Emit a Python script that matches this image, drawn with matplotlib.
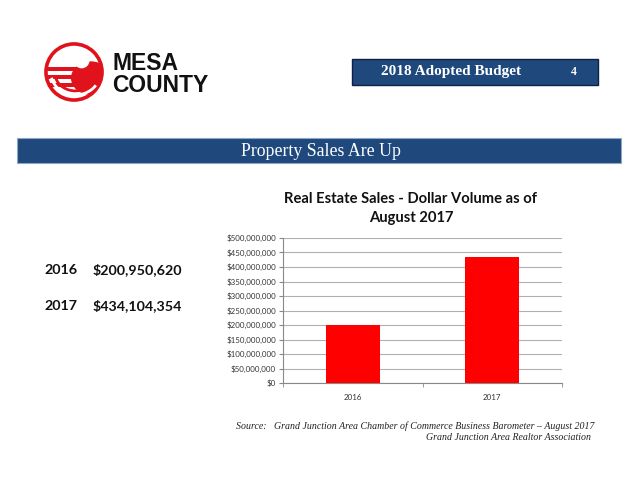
import matplotlib.pyplot as plt
import matplotlib.patches as mpatches
from matplotlib.ticker import FuncFormatter
import numpy as np

# data
years = ['2016', '2017']
sales = [200950620, 434104354]
yticks = np.arange(0, 500000001, 50000000)

W, H = 640, 480
fig = plt.figure(figsize=(6.4, 4.8), dpi=100)
fig.patch.set_facecolor('white')


def fx(x):
    return x / W


def fy(y):
    return 1 - y / H


navy = '#1F497D'
logo_red = '#E0121B'

# --- logo (rough) ---
lg = fig.add_axes([fx(42), fy(104), fx(64), 64 / H])
lg.set_xlim(-1.05, 1.05)
lg.set_ylim(-1.05, 1.05)
lg.set_aspect('equal')
lg.axis('off')
circ = mpatches.Circle((0, 0), 0.92, facecolor='white', edgecolor=logo_red, lw=2.6)
lg.add_patch(circ)
clip = mpatches.Circle((0, 0), 0.92, transform=lg.transData)
blob = mpatches.Ellipse((0.55, -0.2), 1.3, 1.1, facecolor=logo_red, edgecolor='none')
lg.add_patch(blob)
blob.set_clip_path(clip)
for yy in [0.02, -0.24, -0.50]:
    r = mpatches.Rectangle((-1, yy), 1.05, 0.13, facecolor=logo_red, edgecolor='none')
    lg.add_patch(r)
    r.set_clip_path(clip)
for k, rr in enumerate([0.55, 0.42]):
    arc = mpatches.Arc((0.05, -0.05), 2 * rr + 0.5, 2 * rr + 0.3, theta1=190, theta2=330,
                       color='white' if k == 0 else logo_red, lw=2)
    lg.add_patch(arc)
    arc.set_clip_path(clip)
hole = mpatches.Circle((0.25, 0.38), 0.26, facecolor='white', edgecolor='none')
lg.add_patch(hole)
hole.set_clip_path(clip)

fig.text(fx(112), fy(63), 'MESA', fontsize=16.5, fontweight='bold', family='Liberation Sans',
         va='center', ha='left', color='#111111')
fig.text(fx(112), fy(85), 'COUNTY', fontsize=16.5, fontweight='bold', family='Liberation Sans',
         va='center', ha='left', color='#111111')

# --- header box ---
fig.patches.append(mpatches.Rectangle((fx(352), fy(85)), fx(598 - 352), 26 / H,
                                      transform=fig.transFigure, facecolor=navy,
                                      edgecolor='#0F1F45', lw=1))
fig.text(fx(451), fy(72), '2018 Adopted Budget', fontsize=11, fontweight='bold',
         family='Liberation Serif', color='white', ha='center', va='center')
fig.text(fx(574), fy(72), '4', fontsize=8.5, fontweight='bold',
         family='Liberation Serif', color='white', ha='center', va='center')

# --- section banner ---
fig.patches.append(mpatches.Rectangle((fx(17), fy(163)), fx(621 - 17), 25 / H,
                                      transform=fig.transFigure, facecolor=navy,
                                      edgecolor='#8FA6C4', lw=0.8))
fig.text(fx(321), fy(151), 'Property Sales Are Up', fontsize=12.8,
         family='Liberation Serif', color='white', ha='center', va='center')

# --- left summary ---
for i, (yr, v) in enumerate(zip(years, sales)):
    y = 270 + i * 36
    fig.text(fx(44), fy(y), yr, fontsize=10.3, fontweight='bold', family='Lato',
             ha='left', va='center', color='#111111')
    fig.text(fx(93), fy(y), '${:,}'.format(v), fontsize=10.3, fontweight='bold', family='Lato',
             ha='left', va='center', color='#111111')

# --- chart ---
ax = fig.add_axes([fx(283), fy(383), fx(562 - 283), (383 - 238) / H])
x = np.arange(len(years))
ax.bar(x, sales, width=0.39, color='#FF0000', zorder=3)
ax.set_xlim(-0.5, 1.5)
ax.set_ylim(0, 500000000)
ax.set_yticks(yticks)
ax.yaxis.set_major_formatter(FuncFormatter(lambda v, p: '${:,.0f}'.format(v)))
ax.set_xticks(x)
ax.set_xticklabels(years)
ax.set_xticks([-0.5, 0.5, 1.5], minor=True)
ax.tick_params(axis='x', which='major', length=0, labelsize=5.7, colors='#333333', pad=8)
ax.tick_params(axis='x', which='minor', length=3, color='#888888', direction='out')
ax.tick_params(axis='y', length=3, color='#888888', labelsize=5.7, labelcolor='#333333', pad=2)
for lbl in ax.get_xticklabels() + ax.get_yticklabels():
    lbl.set_family('Lato')
ax.grid(axis='y', color='#B0B0B0', lw=0.8, zorder=0)
for s in ['top', 'right']:
    ax.spines[s].set_visible(False)
ax.spines['left'].set_color('#888888')
ax.spines['bottom'].set_color('#888888')
ax.spines['left'].set_linewidth(0.8)
ax.spines['bottom'].set_linewidth(0.8)

fig.text(fx(411), fy(199), 'Real Estate Sales - Dollar Volume as of', fontsize=10.6,
         fontweight='bold', family='Lato', ha='center', va='center', color='#111111')
fig.text(fx(411), fy(218), 'August 2017', fontsize=10.6,
         fontweight='bold', family='Lato', ha='center', va='center', color='#111111')

# --- source ---
fig.text(fx(236), fy(426), 'Source:   Grand Junction Area Chamber of Commerce Business Barometer \u2013 August 2017',
         fontsize=7.1, style='italic', family='Liberation Serif', ha='left', va='center', color='#222222')
fig.text(fx(591), fy(438), 'Grand Junction Area Realtor Association',
         fontsize=7.1, style='italic', family='Liberation Serif', ha='right', va='center', color='#222222')

fig.savefig('out.png', dpi=100, facecolor='white')
